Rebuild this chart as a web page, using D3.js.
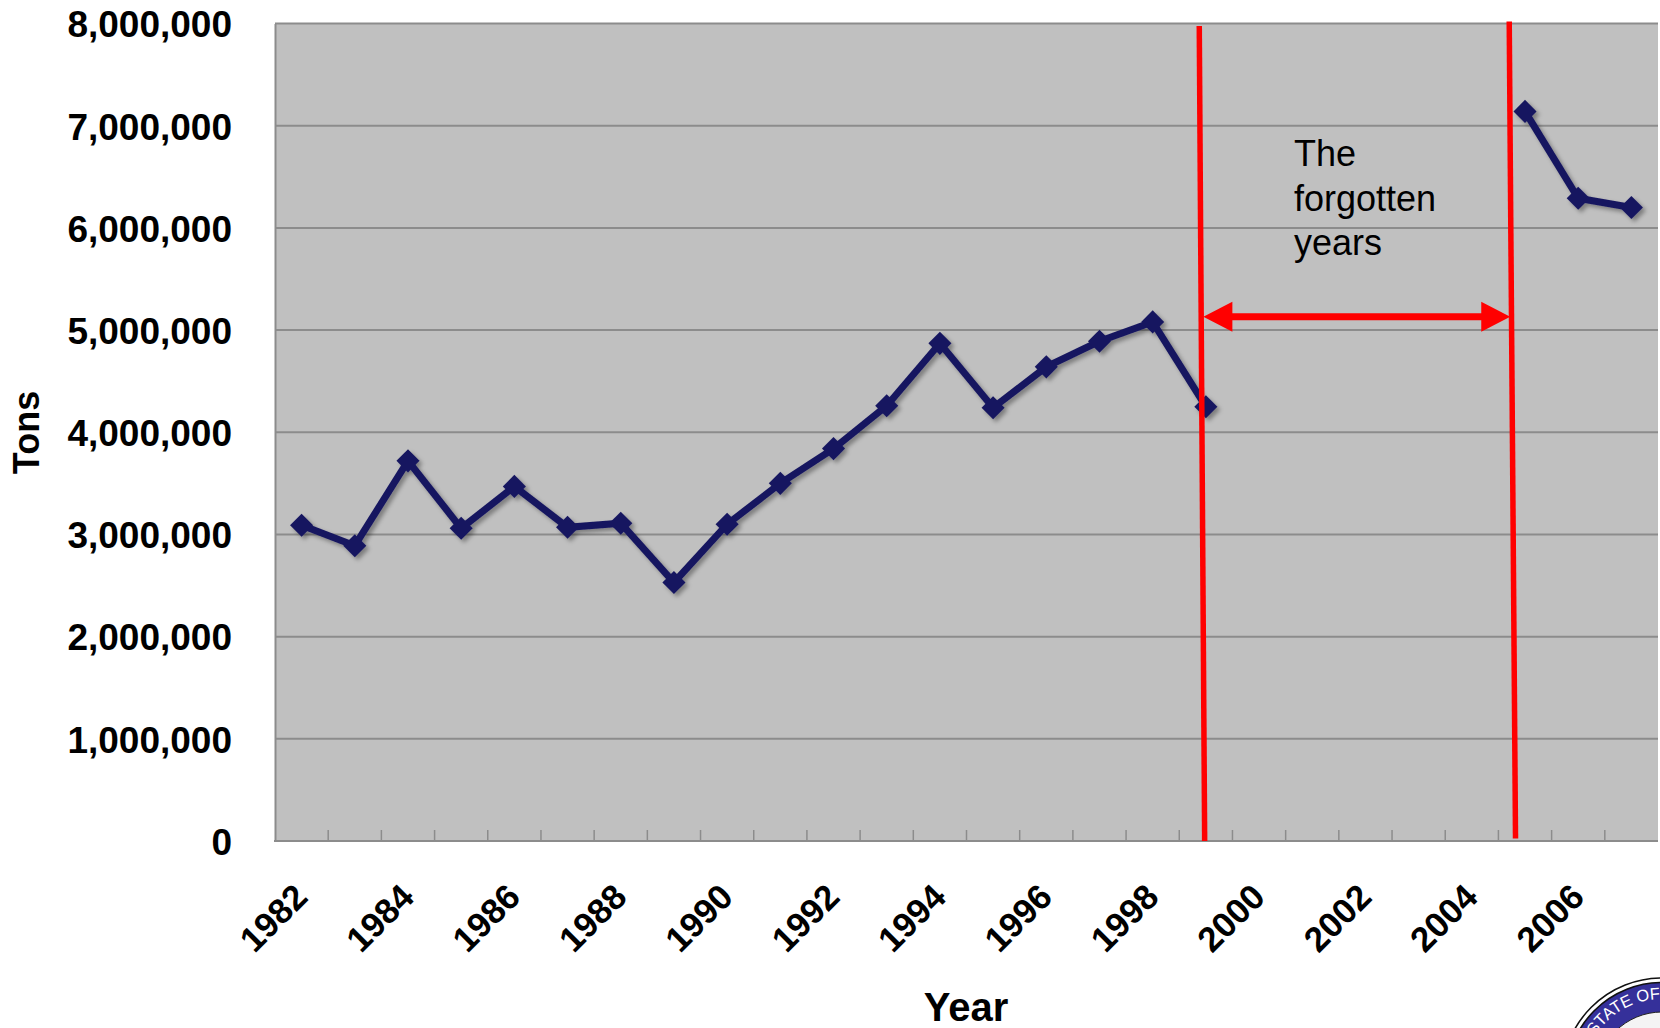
<!DOCTYPE html>
<html>
<head>
<meta charset="utf-8">
<script src="https://cdn.jsdelivr.net/npm/d3@7"></script>
<style>
  html, body { margin: 0; padding: 0; background: #fff; }
  svg { display: block; font-family: "Liberation Sans", Arial, sans-serif; }
</style>
</head>
<body>
<svg id="chart" width="1660" height="1028"></svg>
<script>
// Annual tonnage, 1982–2007; no figures recorded for 2000–2004
const years = d3.range(1982, 2008);
const tons = [
  3090000, 2890000, 3720000, 3060000, 3470000, 3070000, 3110000, 2530000,
  3100000, 3500000, 3840000, 4260000, 4870000, 4240000, 4640000, 4890000,
  5080000, 4250000, null, null, null, null, null, 7140000, 6290000, 6200000
];
const yTicks = [0, 1000000, 2000000, 3000000, 4000000, 5000000, 6000000, 7000000, 8000000];
const xLabelYears = [1982, 1984, 1986, 1988, 1990, 1992, 1994, 1996, 1998, 2000, 2002, 2004, 2006];
const noteLines = ["The", "forgotten", "years"];
const gapYears = [1999, 2005];

const svg = d3.select("#chart");
const plot = { left: 275, right: 1658, top: 23.5, bottom: 841 };

const x = d3.scaleBand().domain(years).range([plot.left, plot.right]).paddingInner(0).paddingOuter(0);
const xc = yr => x(yr) + x.bandwidth() / 2;
// fractional year position (category centre at integer year)
const xf = v => plot.left + (v - years[0] + 0.5) * x.bandwidth();
const y = d3.scaleLinear().domain([0, 8000000]).range([plot.bottom, plot.top]);

const defs = svg.append("defs");
defs.append("filter").attr("id", "shadow")
  .attr("x", "-10%").attr("y", "-10%").attr("width", "130%").attr("height", "130%")
  .append("feDropShadow")
  .attr("dx", 3).attr("dy", 3).attr("stdDeviation", 2)
  .attr("flood-color", "#000").attr("flood-opacity", 0.35);

// plot background
svg.append("rect")
  .attr("x", plot.left).attr("y", plot.top)
  .attr("width", plot.right - plot.left).attr("height", plot.bottom - plot.top)
  .attr("fill", "#c0c0c0");

// horizontal gridlines
svg.append("g").selectAll("line").data(yTicks.filter(d => d > 0)).join("line")
  .attr("x1", plot.left).attr("x2", plot.right)
  .attr("y1", d => y(d)).attr("y2", d => y(d))
  .attr("stroke", "#8c8c8c").attr("stroke-width", 2);

// y axis
const yAxis = d3.axisLeft(y).tickValues(yTicks).tickSize(0).tickPadding(43)
  .tickFormat(d3.format(","));
const gy = svg.append("g").attr("transform", `translate(${plot.left},0)`).call(yAxis);
gy.select(".domain").attr("stroke", "#8c8c8c").attr("stroke-width", 2);
gy.selectAll("text")
  .attr("font-family", "'Liberation Sans', Arial, sans-serif")
  .attr("font-size", 37).attr("font-weight", "bold").attr("fill", "#000")
  .attr("dy", "0.36em");

// x axis: inside tick marks at category boundaries
const bounds = years.slice(1).map(yr => x(yr));
const gx = svg.append("g");
gx.append("line")
  .attr("x1", plot.left - 1).attr("x2", plot.right)
  .attr("y1", plot.bottom).attr("y2", plot.bottom)
  .attr("stroke", "#8c8c8c").attr("stroke-width", 2);
gx.selectAll("line.tick").data(bounds).join("line").attr("class", "tick")
  .attr("x1", d => d).attr("x2", d => d)
  .attr("y1", plot.bottom).attr("y2", plot.bottom - 11)
  .attr("stroke", "#8c8c8c").attr("stroke-width", 1.5);
gx.selectAll("text").data(xLabelYears).join("text")
  .attr("transform", d => `translate(${xc(d) + 8},${899}) rotate(-45)`)
  .attr("text-anchor", "end")
  .attr("font-size", 35).attr("font-weight", "bold").attr("fill", "#000")
  .text(d => d);

// axis titles
svg.append("text")
  .attr("x", 966).attr("y", 1021).attr("text-anchor", "middle")
  .attr("font-size", 40).attr("font-weight", "bold").text("Year");
svg.append("text")
  .attr("transform", "translate(39,432.5) rotate(-90)").attr("text-anchor", "middle")
  .attr("font-size", 36).attr("font-weight", "bold").text("Tons");

// series
const pts = years.map((yr, i) => ({ yr, v: tons[i] }));
const line = d3.line().defined(d => d.v !== null).x(d => xc(d.yr)).y(d => y(d.v));
const series = svg.append("g").attr("filter", "url(#shadow)");
series.append("path").datum(pts).attr("d", line)
  .attr("fill", "none").attr("stroke", "#181860").attr("stroke-width", 7)
  .attr("stroke-linejoin", "miter");
series.selectAll("path.m").data(pts.filter(d => d.v !== null)).join("path").attr("class", "m")
  .attr("d", d3.symbol(d3.symbolDiamond2, 340))
  .attr("transform", d => `translate(${xc(d.yr)},${y(d.v)})`)
  .attr("fill", "#181860");

// gap annotation: red boundary lines and double arrow
const red = "#ff0000";
const gapL = xf(gapYears[0]) - 4, gapR = xf(gapYears[1] - 0.25);
svg.append("line")
  .attr("x1", gapL - 2.6).attr("y1", plot.top + 2.5)
  .attr("x2", gapL + 2.8).attr("y2", plot.bottom)
  .attr("stroke", red).attr("stroke-width", 5.5);
svg.append("line")
  .attr("x1", gapR - 2.5).attr("y1", plot.top - 2)
  .attr("x2", gapR + 3.8).attr("y2", plot.bottom - 2.5)
  .attr("stroke", red).attr("stroke-width", 5.5);

const ay = y(5130000);
const aL = gapL + 1.5, aR = gapR - 1.5, head = 29, half = 15;
svg.append("line")
  .attr("x1", aL + head - 2).attr("x2", aR - head + 2)
  .attr("y1", ay).attr("y2", ay)
  .attr("stroke", red).attr("stroke-width", 7);
svg.append("path")
  .attr("d", `M${aL},${ay} L${aL + head},${ay - half} L${aL + head},${ay + half} Z`)
  .attr("fill", red);
svg.append("path")
  .attr("d", `M${aR},${ay} L${aR - head},${ay - half} L${aR - head},${ay + half} Z`)
  .attr("fill", red);

svg.append("g").selectAll("text").data(noteLines).join("text")
  .attr("x", 1294).attr("y", (d, i) => 166 + i * 44.5)
  .attr("font-size", 36).attr("fill", "#000")
  .text(d => d);

// corner seal, mostly outside the page
const seal = svg.append("g");
const sc = { x: 1662, y: 1078 };
seal.append("circle").attr("cx", sc.x).attr("cy", sc.y).attr("r", 100)
  .attr("fill", "#fff").attr("stroke", "#111").attr("stroke-width", 1.6);
seal.append("circle").attr("cx", sc.x).attr("cy", sc.y).attr("r", 95.5)
  .attr("fill", "#35309a").attr("stroke", "#111").attr("stroke-width", 1.6);
seal.append("circle").attr("cx", sc.x).attr("cy", sc.y).attr("r", 66)
  .attr("fill", "#f4f4f4").attr("stroke", "#222").attr("stroke-width", 1);
const rText = 79;
const a0 = -148 * Math.PI / 180, a1 = -20 * Math.PI / 180;
defs.append("path").attr("id", "sealArc")
  .attr("d", `M${sc.x + rText * Math.cos(a0)},${sc.y + rText * Math.sin(a0)} A${rText},${rText} 0 0 1 ${sc.x + rText * Math.cos(a1)},${sc.y + rText * Math.sin(a1)}`);
seal.append("text")
  .attr("font-size", 16.5).attr("fill", "#fff")
  .append("textPath").attr("href", "#sealArc").text("STATE OF");
</script>
</body>
</html>
